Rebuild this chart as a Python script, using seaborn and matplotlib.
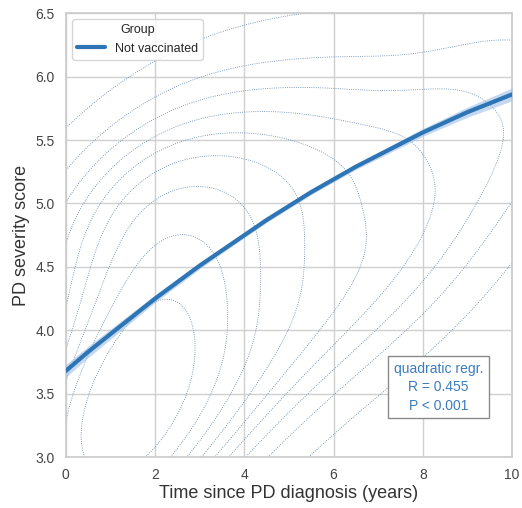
import numpy as np
import pandas as pd
import matplotlib
matplotlib.use("Agg")
import matplotlib.pyplot as plt
import seaborn as sns

# Observations behind the density contours (years since diagnosis, severity score)
obs_years = [0.3, 0.3, 0.3, 0.3, 0.3, 0.3,
             0.6, 0.6,
             0.8, 0.8, 0.8, 0.8, 0.8, 0.8, 0.8,
             1.0,
             1.2, 1.2, 1.2, 1.2, 1.2, 1.2, 1.2,
             1.9, 1.9, 1.9, 1.9, 1.9,
             2.6, 2.6, 2.6, 2.6, 2.6,
             3.4, 3.4, 3.4, 3.4, 3.4,
             4.3, 4.3, 4.3, 4.3, 4.3,
             5.3, 5.3, 5.3, 5.3,
             6.4, 6.4, 6.4, 6.4,
             7.5, 7.5, 7.5,
             8.7, 8.7, 8.7,
             10.0, 10.0,
             11.5,
             13.0]
obs_score = [1.7, 2.4, 3.0, 3.6, 4.3, 5.0,
             2.9, 3.3,
             1.8, 2.5, 3.0, 3.4, 3.8, 4.4, 5.1,
             3.6,
             2.2, 2.7, 3.1, 3.5, 4.0, 4.6, 5.3,
             2.8, 3.4, 4.0, 4.5, 5.1,
             3.2, 3.8, 4.4, 5.0, 5.6,
             3.0, 3.6, 4.2, 4.8, 5.4,
             3.4, 4.0, 4.6, 5.1, 5.7,
             3.8, 4.4, 5.0, 5.6,
             4.0, 4.6, 5.2, 5.8,
             4.3, 4.9, 5.6,
             4.6, 5.2, 5.9,
             5.4, 6.2,
             6.0,
             6.2]

# Quadratic fit curve with its confidence half-width
fit_years = [0, 0.5, 1, 1.5, 2, 2.5, 3, 3.5, 4, 4.5, 5, 5.5, 6, 6.5, 7, 7.5, 8, 8.5,
             9, 9.5, 10]
fit_score = [3.68, 3.83, 3.97, 4.11, 4.25, 4.38, 4.51, 4.63, 4.75, 4.87, 4.98, 5.09,
             5.19, 5.29, 5.38, 5.47, 5.56, 5.64, 5.72, 5.79, 5.86]
fit_ci = [0.05, 0.045, 0.04, 0.035, 0.03, 0.028, 0.025, 0.022, 0.02, 0.02, 0.02, 0.02,
          0.02, 0.022, 0.025, 0.028, 0.03, 0.035, 0.04, 0.045, 0.05]

group_name = "Not vaccinated"
stats_text = "quadratic regr.\nR = 0.455\nP < 0.001"

sns.set_theme(style="whitegrid")
plt.rcParams["font.family"] = ["Liberation Sans", "DejaVu Sans"]

obs = pd.DataFrame({"years": obs_years, "score": obs_score})
fit = pd.DataFrame({"years": fit_years, "score": fit_score, "ci": fit_ci,
                    "Group": group_name})

fig = plt.figure(figsize=(5.22, 5.08), dpi=100)
ax = fig.add_axes([0.126, 0.100, 0.855, 0.874])

sns.kdeplot(data=obs, x="years", y="score", ax=ax, levels=10,
            color="#5b7ea6", linewidths=0.6, linestyles=":", bw_adjust=1.0)

line_color = "#2e75b6"
ax.fill_between(fit["years"], fit["score"] - fit["ci"], fit["score"] + fit["ci"],
                color="#9dbfe6", alpha=0.6, lw=0, zorder=3)
sns.lineplot(data=fit, x="years", y="score", hue="Group", palette=[line_color],
             lw=3, ax=ax, zorder=4)

ax.set_xlim(0, 10)
ax.set_ylim(3.0, 6.5)
ax.set_xticks([0, 2, 4, 6, 8, 10])
ax.set_yticks([3.0, 3.5, 4.0, 4.5, 5.0, 5.5, 6.0, 6.5])
ax.tick_params(labelsize=10, colors="#444444", pad=2)
ax.set_xlabel("Time since PD diagnosis (years)", fontsize=13, color="#333333", labelpad=2)
ax.set_ylabel("PD severity score", fontsize=13, color="#333333", labelpad=4)
for s in ax.spines.values():
    s.set_color("#cccccc")
ax.grid(color="#d0d0d0", lw=1)

leg = ax.legend(title="Group", loc="upper left", fontsize=9, title_fontsize=9,
                frameon=True, borderpad=0.4, handlelength=2.2)
leg.get_frame().set_edgecolor("#cccccc")

ax.text(8.35, 3.55, stats_text, ha="center", va="center", fontsize=10,
        color="#3a7cc0", linespacing=1.4, zorder=6,
        bbox=dict(boxstyle="square,pad=0.4", fc="white", ec="#8a8a8a", lw=1))

fig.savefig("out.png", dpi=100)
